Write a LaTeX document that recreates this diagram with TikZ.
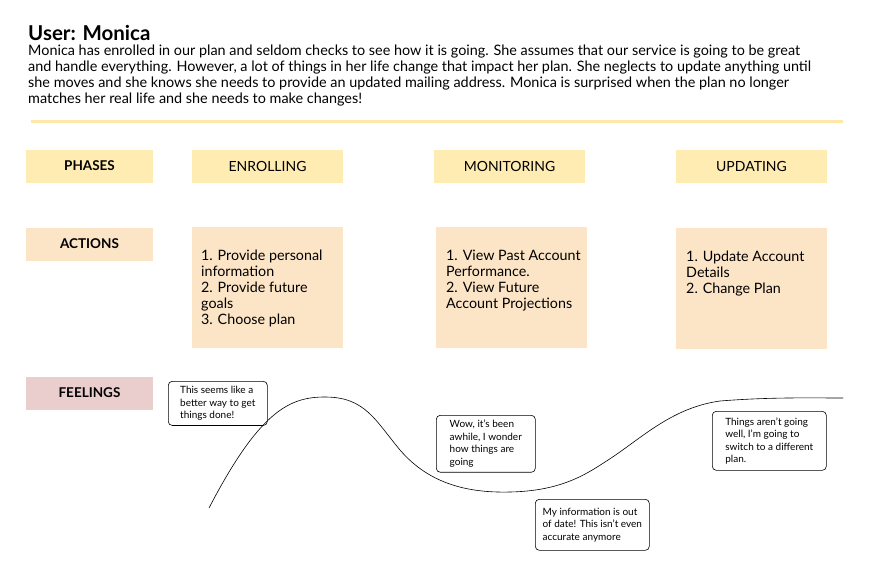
\documentclass[tikz,border=0pt]{standalone}
\usepackage{fontspec}
\setmainfont{Lato}
\usetikzlibrary{positioning}
\definecolor{phaseyellow}{RGB}{255,236,179}
\definecolor{actionpeach}{RGB}{252,228,198}
\definecolor{feelpink}{RGB}{234,206,206}
\definecolor{rulegold}{RGB}{253,232,170}
\tikzset{
	x=1pt, y=-1pt,
	label box/.style={fill=#1, minimum width=127pt, minimum height=33pt, inner sep=0pt, font=\fontsize{13.5}{15}\selectfont\bfseries},
	phase box/.style={fill=phaseyellow, minimum width=151pt, minimum height=33pt, inner sep=0pt, font=\fontsize{14}{16}\selectfont},
	action box/.style={fill=actionpeach, minimum width=151pt, minimum height=121pt, inner sep=0pt},
	action text/.style={anchor=north west, align=left, inner sep=0pt, font=\fontsize{14.3}{16}\selectfont},
	bubble/.style={draw, semithick, rounded corners=4pt, anchor=north west, align=left, inner sep=5pt, font=\fontsize{10}{12.5}\selectfont},
	feeling line/.style={semithick, line cap=round},
}

\begin{document}
\begin{tikzpicture}
	\useasboundingbox (0,0) rectangle (870,573);

	% header
	\node[anchor=base west, inner sep=0pt, font=\fontsize{20.5}{22}\selectfont\bfseries] (title) at (28,40) {User: Monica};
	\node[anchor=north west, align=left, inner sep=0pt, font=\fontsize{14.4}{16}\selectfont] (story) at (28,45) {Monica has enrolled in our plan and seldom checks to see how it is going. She assumes that our service is going to be great\\and handle everything. However, a lot of things in her life change that impact her plan. She neglects to update anything until\\she moves and she knows she needs to provide an updated mailing address. Monica is surprised when the plan no longer\\matches her real life and she needs to make changes!};
	\draw[rulegold, line width=3pt] (31,121) -- (843,121);

	% row labels
	\node[label box=phaseyellow] (phases) at (89.5,166) {PHASES};
	\node[label box=actionpeach] (actions) at (89.5,244) {ACTIONS};
	\node[label box=feelpink] (feelings) at (89.5,393) {FEELINGS};

	% phases
	\node[phase box] (enroll) at (267.5,166) {ENROLLING};
	\node[phase box] (monitor) at (509.5,166) {MONITORING};
	\node[phase box] (update) at (751.5,166) {UPDATING};

	% actions
	\node[action box] (act1) at (267.5,287.5) {};
	\node[action box] (act2) at (511.5,287.5) {};
	\node[action box] (act3) at (751.5,288.5) {};
	\node[action text] (txt1) at (201,250) {1. Provide personal\\information\\2. Provide future\\goals\\3. Choose plan};
	\node[action text] (txt2) at (446,250) {1. View Past Account\\Performance.\\2. View Future\\Account Projections};
	\node[action text] (txt3) at (686,251) {1. Update Account\\Details\\2. Change Plan};

	% feelings
	\draw[feeling line] (209,508) .. controls (260,410) and (290,397) .. (325,397)
		.. controls (365,397) and (375,420) .. (400,450)
		.. controls (430,485) and (470,493) .. (510,492)
		.. controls (560,491) and (585,475) .. (605,462)
		.. controls (640,440) and (670,408) .. (720,401)
		.. controls (770,397) and (810,398) .. (843,398);

	\node[bubble, minimum width=99pt, minimum height=38pt] (b1) at (168,381) {This seems like a\\better way to get\\things done!};
	\node[bubble, minimum width=99pt, minimum height=49pt] (b2) at (436,415) {Wow, it's been\\awhile, I wonder\\how things are\\going};
	\node[bubble, minimum width=114pt, minimum height=51pt] (b3) at (535,499) {My information is out\\of date! This isn't even\\accurate anymore};
	\node[bubble, minimum width=114pt, minimum height=59pt] (b4) at (712,411) {Things aren't going\\well, I'm going to\\switch to a different\\plan.};
\end{tikzpicture}
\end{document}
